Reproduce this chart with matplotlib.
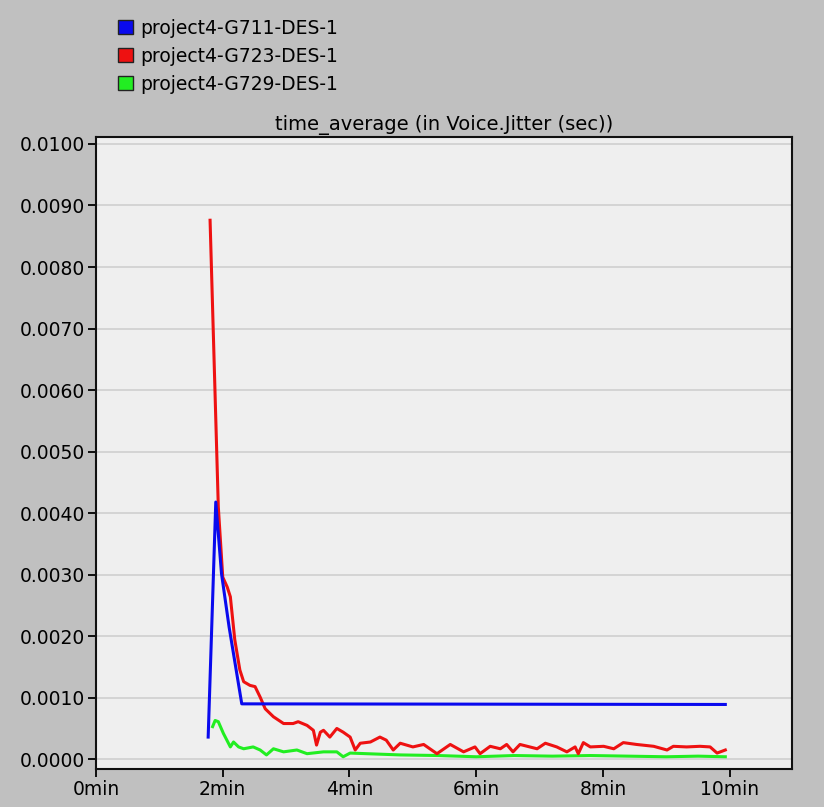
import matplotlib
matplotlib.use("Agg")
import matplotlib.pyplot as plt
from matplotlib.patches import Patch

# time in minutes, values in seconds
g711_t = [1.77, 1.89, 1.98, 2.10, 2.30, 9.93]
g711_v = [0.00036, 0.00418, 0.00302, 0.00215, 0.00090, 0.00089]

g723_t = [1.80, 1.93, 2.00, 2.07, 2.12, 2.19, 2.27, 2.33, 2.43, 2.51, 2.59, 2.67,
          2.80, 2.96, 3.11, 3.19, 3.33, 3.43, 3.48, 3.54, 3.59, 3.69, 3.80, 3.90,
          4.01, 4.09, 4.17, 4.33, 4.48, 4.58, 4.69, 4.80, 5.00, 5.17, 5.38, 5.59,
          5.80, 5.98, 6.06, 6.22, 6.38, 6.48, 6.58, 6.69, 6.96, 7.09, 7.27, 7.43,
          7.56, 7.61, 7.69, 7.80, 8.01, 8.17, 8.32, 8.53, 8.80, 9.01, 9.11, 9.32,
          9.53, 9.69, 9.80, 9.93]
g723_v = [0.00876, 0.00410, 0.00296, 0.00280, 0.00264, 0.00194, 0.00145, 0.00126,
          0.00120, 0.00118, 0.00101, 0.00082, 0.00069, 0.00058, 0.00058, 0.00061,
          0.00055, 0.00047, 0.00023, 0.00044, 0.00047, 0.00036, 0.00050, 0.00044,
          0.00036, 0.00015, 0.00026, 0.00028, 0.00036, 0.00031, 0.00015, 0.00026,
          0.00020, 0.00024, 0.00009, 0.00024, 0.00012, 0.00020, 0.00009, 0.00021,
          0.00017, 0.00024, 0.00012, 0.00024, 0.00017, 0.00026, 0.00020, 0.00012,
          0.00020, 0.00009, 0.00027, 0.00020, 0.00021, 0.00017, 0.00027, 0.00024,
          0.00021, 0.00015, 0.00021, 0.00020, 0.00021, 0.00020, 0.00010, 0.00015]

g729_t = [1.84, 1.88, 1.93, 2.01, 2.12, 2.17, 2.25, 2.33, 2.48, 2.59, 2.69, 2.80,
          2.96, 3.17, 3.33, 3.59, 3.80, 3.90, 4.01, 4.27, 4.80, 5.40, 6.00, 6.60,
          7.20, 7.80, 8.40, 9.00, 9.50, 9.93]
g729_v = [0.00053, 0.00063, 0.00061, 0.00042, 0.00020, 0.00028, 0.00020, 0.00017,
          0.00020, 0.00015, 0.00007, 0.00017, 0.00012, 0.00015, 0.00009, 0.00012,
          0.00012, 0.00004, 0.00010, 0.00009, 0.00007, 0.00006, 0.00004, 0.00006,
          0.00005, 0.00006, 0.00005, 0.00004, 0.00005, 0.00004]

names = ["project4-G711-DES-1", "project4-G723-DES-1", "project4-G729-DES-1"]
colors = ["#0a0aee", "#ee1111", "#22ee22"]

x_ticks = [0, 2, 4, 6, 8, 10]
x_labels = ["0min", "2min", "4min", "6min", "8min", "10min"]
y_ticks = [i * 0.001 for i in range(11)]

plt.rcParams["font.family"] = ["DejaVu Sans"]

fig = plt.figure(figsize=(8.24, 8.07), dpi=100, facecolor="#c0c0c0")
ax = fig.add_axes([0.1165, 0.047, 0.8445, 0.783], facecolor="#efefef")

ax.plot(g711_t, g711_v, color=colors[0], lw=2.2, zorder=4)
ax.plot(g723_t, g723_v, color=colors[1], lw=2.2, zorder=3)
ax.plot(g729_t, g729_v, color=colors[2], lw=2.2, zorder=2)

ax.set_xlim(0, 10.98)
ax.set_ylim(-0.00016, 0.01011)
ax.set_xticks(x_ticks)
ax.set_xticklabels(x_labels)
ax.set_yticks(y_ticks)
ax.set_yticklabels(["%.4f" % v for v in y_ticks])
ax.tick_params(direction="out", length=6, width=1.3, labelsize=13.5, pad=2)
ax.grid(axis="y", color="#d2d2d2", lw=1.3)
ax.set_axisbelow(True)
for s in ax.spines.values():
    s.set_linewidth(1.5)
    s.set_color("#111111")

ax.set_title("time_average (in Voice.Jitter (sec))", fontsize=14, pad=5)

handles = [Patch(facecolor=c, edgecolor="#222222", lw=1) for c in colors]
fig.legend(handles, names, loc="upper left", bbox_to_anchor=(0.143, 0.977),
           frameon=False, fontsize=13.5, handlelength=0.8, handleheight=0.8,
           handletextpad=0.4, labelspacing=0.48, borderpad=0, borderaxespad=0)

fig.savefig("out.png", dpi=100, facecolor=fig.get_facecolor())
